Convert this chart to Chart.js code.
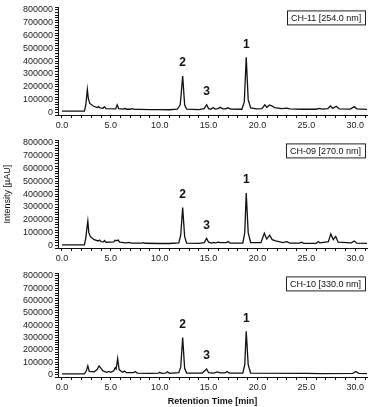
<!DOCTYPE html>
<html lang="en">
<head>
  <meta charset="UTF-8" />
  <title>Chromatograms CH-11 / CH-09 / CH-10</title>
  <script src="https://cdn.jsdelivr.net/npm/chart.js"></script>
  <style>
    body { margin: 0; background: #fff; width: 372px; height: 407px; overflow: hidden; }
    canvas { position: absolute; left: 0; }
    #c1 { top: 0; }
    #c2 { top: 133px; }
    #c3 { top: 266px; }
  </style>
</head>
<body>
  <canvas id="c1" width="372" height="133"></canvas>
  <canvas id="c2" width="372" height="133"></canvas>
  <canvas id="c3" width="372" height="141"></canvas>

  <script>
  // retention time (min) / intensity (µAU)
  const times11 = [0, 2.3, 2.45, 2.6, 2.7, 2.85, 3.2, 3.6, 3.75, 3.9, 4.2, 4.35, 4.5, 5.5, 5.65, 5.8, 6.3, 6.45, 6.6, 7.0, 7.2, 7.4, 8.0, 9.0, 10.0, 11.0, 11.8, 12.1, 12.35, 12.55, 12.75, 14.0, 14.55, 14.8, 15.0, 15.25, 15.45, 15.65, 15.95, 16.2, 16.45, 16.75, 16.95, 17.25, 18.4, 18.65, 18.85, 19.05, 19.3, 19.9, 20.45, 20.75, 20.95, 21.25, 21.45, 21.75, 22.5, 23.0, 23.3, 24.5, 26.0, 26.3, 26.6, 27.2, 27.45, 27.7, 28.05, 28.35, 29.5, 29.9, 30.15, 31.2];
  const values11 = [10000, 10000, 60000, 180000, 110000, 70000, 50000, 38000, 45000, 35000, 33000, 45000, 30000, 28000, 60000, 30000, 26000, 32000, 25000, 25000, 30000, 24000, 24000, 22000, 22000, 21000, 25000, 60000, 285000, 60000, 25000, 22000, 30000, 60000, 30000, 25000, 38000, 26000, 30000, 40000, 28000, 28000, 36000, 26000, 25000, 80000, 430000, 100000, 35000, 28000, 30000, 60000, 40000, 58000, 52000, 38000, 30000, 34000, 28000, 25000, 25000, 32000, 26000, 30000, 50000, 32000, 48000, 28000, 26000, 45000, 28000, 24000];

  const times09 = [0, 2.3, 2.45, 2.55, 2.65, 2.75, 2.9, 3.3, 3.7, 3.85, 4.0, 4.25, 4.35, 4.5, 5.3, 5.45, 5.6, 5.75, 5.9, 6.5, 6.9, 7.1, 8.2, 8.35, 8.5, 10.0, 11.0, 11.95, 12.15, 12.35, 12.55, 12.75, 14.0, 14.55, 14.8, 15.0, 15.3, 15.5, 15.7, 16.0, 16.2, 16.8, 17.0, 17.2, 18.5, 18.7, 18.85, 19.05, 19.3, 20.35, 20.7, 20.95, 21.25, 21.5, 21.85, 22.2, 22.6, 23.0, 23.3, 24.3, 24.5, 24.7, 26.0, 26.2, 26.4, 27.25, 27.5, 27.75, 28.0, 28.25, 29.6, 29.9, 30.15, 31.2];
  const values09 = [5000, 5000, 60000, 130000, 190000, 100000, 70000, 45000, 35000, 42000, 30000, 28000, 38000, 25000, 28000, 40000, 38000, 42000, 25000, 20000, 24000, 18000, 18000, 22000, 17000, 15000, 15000, 20000, 80000, 295000, 70000, 18000, 16000, 22000, 55000, 25000, 18000, 24000, 20000, 26000, 22000, 22000, 30000, 18000, 18000, 100000, 410000, 100000, 22000, 22000, 95000, 50000, 80000, 45000, 35000, 30000, 22000, 30000, 18000, 18000, 25000, 16000, 16000, 30000, 20000, 30000, 90000, 45000, 70000, 25000, 20000, 35000, 18000, 16000];

  const times10 = [0, 2.3, 2.5, 2.65, 2.8, 3.3, 3.6, 3.8, 4.0, 4.2, 4.6, 4.8, 5.0, 5.3, 5.45, 5.55, 5.7, 5.85, 6.0, 6.2, 6.4, 6.6, 7.3, 7.5, 7.7, 9.0, 9.9, 10.0, 10.2, 10.6, 10.8, 11.0, 11.95, 12.15, 12.35, 12.55, 12.75, 14.35, 14.8, 15.0, 15.5, 15.9, 16.2, 16.7, 16.9, 17.1, 18.5, 18.7, 18.85, 19.05, 19.3, 25.0, 26.5, 29.75, 30.05, 30.35, 31.2];
  const values10 = [5000, 5000, 30000, 70000, 25000, 22000, 40000, 70000, 50000, 30000, 18000, 25000, 18000, 30000, 55000, 45000, 130000, 40000, 30000, 18000, 28000, 15000, 15000, 25000, 12000, 10000, 12000, 18000, 10000, 12000, 22000, 10000, 15000, 60000, 300000, 50000, 12000, 12000, 45000, 15000, 12000, 22000, 14000, 14000, 25000, 12000, 12000, 80000, 350000, 80000, 12000, 10000, 8000, 10000, 25000, 10000, 8000];

  // numbered peaks: 1, 2, 3
  const peakNames = ['1', '2', '3'];
  const peakTimes = [18.85, 12.35, 14.8];
  const peakValues11 = [430000, 285000, 60000];
  const peakValues09 = [410000, 295000, 55000];
  const peakValues10 = [350000, 300000, 45000];

  const channels = ['CH-11 [254.0 nm]', 'CH-09 [270.0 nm]', 'CH-10 [330.0 nm]'];

  const FONT = '"Liberation Sans", Arial, sans-serif';

  const labelPlugin = {
    id: 'chromLabels',
    afterDatasetsDraw(chart, args, opts) {
      const { ctx, chartArea } = chart;
      const x = chart.scales.x, y = chart.scales.y;
      ctx.save();
      ctx.fillStyle = '#111';
      ctx.font = 'bold 12px ' + FONT;
      ctx.textAlign = 'center';
      ctx.textBaseline = 'middle';
      peakNames.forEach((name, i) => {
        ctx.fillText(name, x.getPixelForValue(peakTimes[i]), y.getPixelForValue(opts.values[i]) - 13);
      });
      // channel box, top right
      ctx.font = '9px ' + FONT;
      const w = ctx.measureText(opts.channel).width + 8;
      const bx = chartArea.right - 2 - w, by = chartArea.top + 3;
      ctx.strokeStyle = '#222';
      ctx.lineWidth = 1;
      ctx.strokeRect(Math.round(bx) + 0.5, by + 0.5, Math.round(w), 14);
      ctx.textAlign = 'left';
      ctx.fillText(opts.channel, Math.round(bx) + 4, by + 8);
      ctx.restore();
    }
  };

  function makeChart(id, times, values, peakVals, channel, opts) {
    const points = times.map((t, i) => ({ x: t, y: values[i] }));
    return new Chart(document.getElementById(id), {
      type: 'line',
      data: {
        datasets: [{
          data: points,
          borderColor: '#111',
          borderWidth: 1.3,
          pointRadius: 0,
          tension: 0,
          fill: false
        }]
      },
      options: {
        responsive: false,
        animation: false,
        devicePixelRatio: 1,
        layout: { padding: { top: 5, right: 5, left: 0, bottom: 0 } },
        plugins: {
          legend: { display: false },
          tooltip: { enabled: false },
          chromLabels: { values: peakVals, channel: channel }
        },
        scales: {
          x: {
            type: 'linear',
            min: -0.4,
            max: 31.2,
            afterFit: s => { s.height = opts.xHeight; },
            border: { color: '#111', width: 1 },
            grid: { drawOnChartArea: false, drawTicks: true, tickLength: 3, color: '#111' },
            ticks: {
              stepSize: 1,
              includeBounds: false,
              autoSkip: false,
              maxRotation: 0,
              padding: 2,
              color: '#222',
              font: { family: FONT, size: 9 },
              callback: v => (v % 5 === 0 ? v.toFixed(1) : '')
            },
            title: {
              display: !!opts.xTitle,
              text: opts.xTitle || '',
              color: '#111',
              font: { family: FONT, size: 9, weight: 'bold' },
              padding: 0
            }
          },
          y: {
            min: -20000,
            max: 820000,
            afterFit: s => { s.width = 58; },
            border: { color: '#111', width: 1 },
            grid: { drawOnChartArea: false, drawTicks: true, tickLength: 3, color: '#111' },
            ticks: {
              stepSize: 20000,
              includeBounds: false,
              autoSkip: false,
              padding: 2,
              color: '#222',
              font: { family: FONT, size: 9 },
              callback: v => (v % 100000 === 0 ? String(v) : '')
            },
            title: {
              display: !!opts.yTitle,
              text: opts.yTitle || '',
              color: '#111',
              font: { family: FONT, size: 9 },
              padding: { top: 2, bottom: 0 }
            }
          }
        }
      },
      plugins: [labelPlugin]
    });
  }

  makeChart('c1', times11, values11, peakValues11, channels[0], { xHeight: 18 });
  makeChart('c2', times09, values09, peakValues09, channels[1], { xHeight: 18, yTitle: 'Intensity [µAU]' });
  makeChart('c3', times10, values10, peakValues10, channels[2], { xHeight: 30, xTitle: 'Retention Time [min]' });
  </script>
</body>
</html>
